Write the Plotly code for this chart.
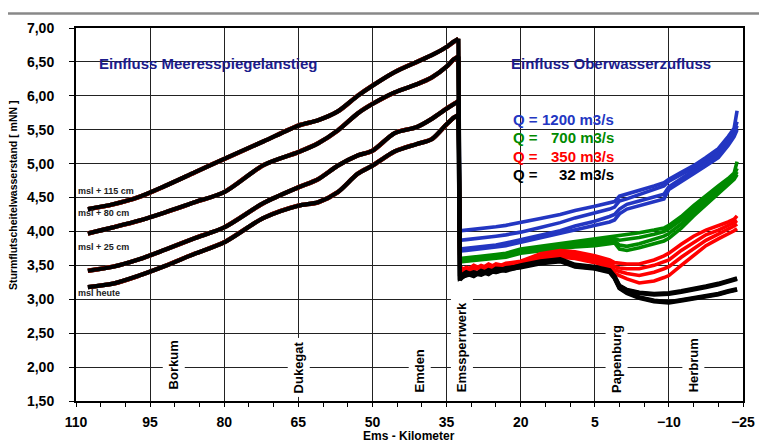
import plotly.graph_objects as go

# ---------------- data ----------------
km_left = [107.6, 102.5, 97.2, 92, 86, 80, 72, 65, 61, 57, 53, 50, 45.5, 41, 38, 35, 33.5, 32.6]
left_115 = [4.33, 4.40, 4.51, 4.67, 4.87, 5.07, 5.33, 5.56, 5.64, 5.77, 6.00, 6.15, 6.35, 6.50, 6.60, 6.72, 6.80, 6.84]
left_80 = [3.97, 4.06, 4.16, 4.28, 4.43, 4.58, 4.98, 5.17, 5.30, 5.49, 5.74, 5.88, 6.05, 6.17, 6.27, 6.43, 6.54, 6.58]
left_25 = [3.42, 3.48, 3.59, 3.73, 3.90, 4.06, 4.42, 4.65, 4.77, 4.97, 5.12, 5.19, 5.45, 5.54, 5.66, 5.81, 5.88, 5.92]
left_heute = [3.18, 3.23, 3.35, 3.49, 3.67, 3.84, 4.20, 4.38, 4.43, 4.58, 4.85, 4.97, 5.18, 5.29, 5.36, 5.58, 5.68, 5.72]

km_right = [32.3, 31, 29.5, 28, 26.5, 25, 23, 20, 16, 12, 9, 5, 2, 1, 0, -1.5, -4, -7, -9, -10,
            -12.5, -15, -17.5, -20, -22, -23.2, -23.8]

q1200 = [
    [4.01, 4.02, 4.03, 4.04, 4.05, 4.07, 4.09, 4.13, 4.19, 4.25, 4.31, 4.37, 4.42, 4.44, 4.52, 4.55, 4.60, 4.67, 4.72, 4.77, 4.87, 4.97, 5.09, 5.22, 5.40, 5.52, 5.78],
    [3.87, 3.88, 3.89, 3.90, 3.91, 3.93, 3.95, 3.99, 4.06, 4.13, 4.20, 4.27, 4.33, 4.36, 4.45, 4.48, 4.54, 4.61, 4.67, 4.74, 4.84, 4.94, 5.06, 5.18, 5.36, 5.48, 5.62],
    [3.74, 3.75, 3.76, 3.77, 3.78, 3.80, 3.83, 3.88, 3.95, 4.01, 4.08, 4.15, 4.22, 4.25, 4.33, 4.40, 4.45, 4.51, 4.55, 4.66, 4.78, 4.90, 5.02, 5.14, 5.32, 5.44, 5.56],
    [3.71, 3.72, 3.73, 3.74, 3.75, 3.77, 3.79, 3.84, 3.90, 3.96, 4.02, 4.08, 4.14, 4.17, 4.26, 4.33, 4.38, 4.44, 4.48, 4.62, 4.73, 4.85, 4.97, 5.09, 5.27, 5.40, 5.50],
]
q700 = [
    [3.60, 3.61, 3.62, 3.63, 3.64, 3.66, 3.68, 3.74, 3.78, 3.82, 3.84, 3.88, 3.92, 3.93, 3.93, 3.95, 3.98, 4.02, 4.05, 4.09, 4.22, 4.38, 4.53, 4.67, 4.78, 4.86, 5.03],
    [3.58, 3.59, 3.60, 3.61, 3.62, 3.64, 3.66, 3.72, 3.76, 3.80, 3.82, 3.85, 3.88, 3.89, 3.87, 3.88, 3.91, 3.96, 4.00, 4.04, 4.17, 4.33, 4.49, 4.64, 4.75, 4.83, 4.93],
    [3.57, 3.57, 3.58, 3.59, 3.60, 3.62, 3.64, 3.70, 3.74, 3.77, 3.79, 3.82, 3.85, 3.86, 3.80, 3.78, 3.82, 3.88, 3.93, 3.97, 4.11, 4.28, 4.44, 4.60, 4.72, 4.80, 4.88],
    [3.55, 3.56, 3.57, 3.58, 3.59, 3.60, 3.62, 3.68, 3.72, 3.75, 3.77, 3.79, 3.82, 3.83, 3.74, 3.72, 3.76, 3.82, 3.86, 3.90, 4.05, 4.23, 4.40, 4.56, 4.69, 4.77, 4.84],
]
q350 = [
    [3.48, 3.42, 3.50, 3.45, 3.52, 3.47, 3.53, 3.56, 3.67, 3.72, 3.70, 3.64, 3.58, 3.54, 3.53, 3.52, 3.52, 3.58, 3.64, 3.68, 3.81, 3.93, 4.02, 4.08, 4.14, 4.18, 4.23],
    [3.42, 3.47, 3.44, 3.50, 3.46, 3.52, 3.49, 3.53, 3.64, 3.69, 3.67, 3.60, 3.54, 3.48, 3.46, 3.45, 3.45, 3.50, 3.55, 3.58, 3.72, 3.83, 3.95, 4.02, 4.08, 4.13, 4.16],
    [3.38, 3.44, 3.47, 3.43, 3.50, 3.45, 3.51, 3.50, 3.61, 3.65, 3.63, 3.57, 3.50, 3.43, 3.41, 3.38, 3.35, 3.40, 3.45, 3.48, 3.62, 3.74, 3.87, 3.96, 4.03, 4.08, 4.11],
    [3.45, 3.40, 3.43, 3.48, 3.44, 3.50, 3.47, 3.48, 3.59, 3.62, 3.60, 3.54, 3.47, 3.38, 3.35, 3.30, 3.24, 3.27, 3.32, 3.35, 3.50, 3.64, 3.79, 3.89, 3.96, 4.01, 4.04],
]
q32 = [
    [3.34, 3.40, 3.35, 3.42, 3.38, 3.45, 3.44, 3.50, 3.56, 3.59, 3.51, 3.48, 3.43, 3.34, 3.20, 3.14, 3.10, 3.08, 3.08, 3.09, 3.12, 3.15, 3.19, 3.23, 3.27, 3.30, 3.31],
    [3.31, 3.36, 3.40, 3.37, 3.43, 3.40, 3.46, 3.49, 3.55, 3.58, 3.50, 3.47, 3.42, 3.33, 3.19, 3.13, 3.09, 3.07, 3.07, 3.08, 3.11, 3.14, 3.18, 3.22, 3.26, 3.29, 3.30],
    [3.29, 3.38, 3.34, 3.41, 3.37, 3.44, 3.42, 3.48, 3.54, 3.57, 3.49, 3.46, 3.41, 3.32, 3.17, 3.10, 3.03, 2.98, 2.96, 2.96, 2.99, 3.02, 3.05, 3.08, 3.12, 3.14, 3.15],
    [3.32, 3.35, 3.38, 3.36, 3.41, 3.40, 3.44, 3.47, 3.53, 3.56, 3.48, 3.45, 3.40, 3.31, 3.16, 3.09, 3.02, 2.97, 2.95, 2.95, 2.98, 3.01, 3.04, 3.07, 3.11, 3.13, 3.14],
]

msl_curves = [left_115, left_80, left_25, left_heute]
msl_labels = ["msl + 115 cm", "msl + 80 cm", "msl + 25 cm", "msl heute"]
q_labels = ["1200", "700", "350", "32"]
q_series = [q1200, q700, q350, q32]
q_colors = ["#2336c2", "#008a00", "#ff0000", "#000000"]

places = ["Borkum", "Dukegat", "Emden", "Emssperrwerk", "Papenburg", "Herbrum"]
places_km = [90.3, 65.0, 40.5, 31.9, 0.5, -15.0]
places_y = [2.03, 2.00, 1.94, 2.29, 2.12, 2.02]

FONT = "Arial, 'Liberation Sans', sans-serif"

fig = go.Figure()
for ql, qs, col in zip(q_labels, q_series, q_colors):
    w = 4.2 if col == "#000000" else 3.6
    for mi, left in enumerate(msl_curves):
        # seaward part (smooth curve)
        fig.add_trace(go.Scatter(
            x=km_left, y=left, mode="lines",
            line=dict(color=col, width=w if col == "#000000" else 4.4, shape="spline", smoothing=0.8),
            showlegend=False, hoverinfo="skip"))
        # drop at the storm surge barrier and upstream part
        fig.add_trace(go.Scatter(
            x=[km_left[-1]] + km_right, y=[left[-1]] + qs[mi], mode="lines",
            line=dict(color=col, width=w),
            name=f"Q={ql} {msl_labels[mi]}", showlegend=False, hoverinfo="skip"))


def ann(x, y, text, size, color="#000000", xanchor="center", yanchor="middle", **kw):
    d = dict(xref=kw.pop("xref", "paper"), yref=kw.pop("yref", "paper"), x=x, y=y, text=text,
             xanchor=xanchor, yanchor=yanchor, showarrow=False,
             font=dict(family=FONT, size=size, color=color, weight="bold"))
    d.update(kw)
    return d


annotations = [
    ann(0.1986, 0.9035, "Einfluss Meeresspiegelanstieg", 15, "#1c1c8c"),
    ann(0.8014, 0.9035, "Einfluss Oberwasserzufluss", 15, "#1c1c8c"),
]
q_rows_y = [0.756, 0.7075, 0.6566, 0.6067]
for ql, col, yy in zip(q_labels, q_colors, q_rows_y):
    annotations.append(ann(0.652, yy, "Q =", 15, col, xanchor="left"))
    annotations.append(ann(0.810, yy, f"{ql} m3/s", 15, col, xanchor="right"))
msl_y = [0.563, 0.504, 0.413, 0.290]
for t, yy in zip(msl_labels, msl_y):
    annotations.append(ann(0.0, yy, t, 9, "#222222", xanchor="left"))
for t, xx, yy in zip(places, places_km, places_y):
    annotations.append(ann(xx, yy, t, 13, xref="x", yref="y", textangle=-90,
                           bgcolor="white", borderpad=3))
annotations.append(ann(-0.0935, 0.551, "Sturmflutscheitelwasserstand [ mNN ]", 10.5, textangle=-90))
annotations.append(ann(0.499, -0.0925, "Ems - Kilometer", 12))

shapes = [
    dict(type="rect", xref="paper", yref="paper", x0=0.0196, x1=0.394, y0=0.863, y1=0.944,
         fillcolor="white", line=dict(width=0), layer="between"),
    dict(type="rect", xref="paper", yref="paper", x0=0.629, x1=0.973, y0=0.863, y1=0.944,
         fillcolor="white", line=dict(width=0), layer="between"),
    dict(type="rect", xref="paper", yref="paper", x0=0.650, x1=0.818, y0=0.576, y1=0.799,
         fillcolor="white", line=dict(width=0), layer="between"),
    dict(type="line", xref="paper", yref="paper", x0=-0.11, x1=1.05, y0=1.039, y1=1.039,
         line=dict(color="#888888", width=2.5)),
]

# page body has an 8px default margin, so the figure is sized/shifted to compensate
fig.update_layout(
    width=759, height=434,
    margin=dict(l=68, r=21, t=16, b=37),
    paper_bgcolor="white", plot_bgcolor="white",
    separators=",.",
    font=dict(family=FONT, color="#000000"),
    annotations=annotations, shapes=shapes,
    showlegend=False,
)
fig.update_xaxes(
    range=[110, -25], tick0=-25, dtick=15, tickmode="linear",
    showgrid=True, gridcolor="#222222", gridwidth=1,
    showline=True, linecolor="#000000", linewidth=2, mirror=True,
    ticks="outside", ticklen=4, tickcolor="#000000", tickwidth=1,
    minor=dict(dtick=5, ticks="outside", ticklen=4, tickcolor="#000000", showgrid=False),
    tickfont=dict(family=FONT, size=14, color="#000000", weight="bold"),
    ticklabelstandoff=3, zeroline=False,
)
fig.update_yaxes(
    range=[1.5, 7.0], tick0=1.5, dtick=0.5, tickmode="linear", tickformat=".2f",
    showgrid=True, gridcolor="#222222", gridwidth=1,
    showline=True, linecolor="#000000", linewidth=2, mirror=True,
    ticks="outside", ticklen=5, tickcolor="#000000", tickwidth=1,
    tickfont=dict(family=FONT, size=14, color="#000000", weight="bold"),
    ticklabelstandoff=12, zeroline=False,
)

fig.write_html("out.html")
